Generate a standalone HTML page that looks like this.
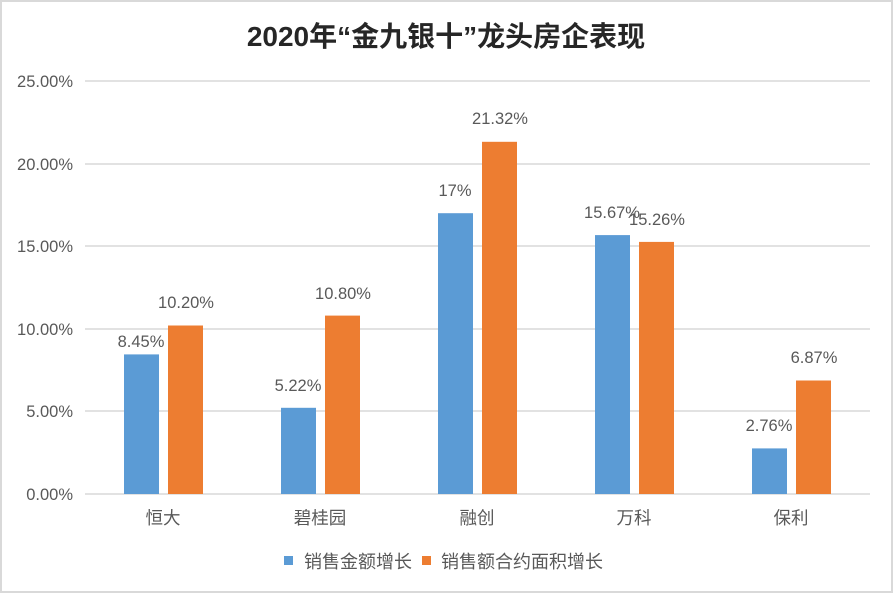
<!DOCTYPE html>
<html><head><meta charset="utf-8"><style>
html,body{margin:0;padding:0;background:#fff;}
svg{display:block;}
text{font-family:"Liberation Sans","Noto Sans CJK SC",sans-serif;fill:#595959;}
</style></head><body>
<svg width="893" height="593" xmlns="http://www.w3.org/2000/svg">
<rect x="1" y="1" width="891" height="591" fill="#fff" stroke="#d9d9d9" stroke-width="2"/>
<text x="446" y="46" text-anchor="middle" font-size="28" font-weight="bold" style="fill:#262626">2020年“金九银十”龙头房企表现</text>
<g stroke="#d9d9d9" stroke-width="1.5">
<line x1="85" x2="870" y1="81" y2="81"/>
<line x1="85" x2="870" y1="164" y2="164"/>
<line x1="85" x2="870" y1="246" y2="246"/>
<line x1="85" x2="870" y1="329" y2="329"/>
<line x1="85" x2="870" y1="411" y2="411"/>
<line x1="85" x2="870" y1="494" y2="494"/>
</g>
<g font-size="16.5" text-anchor="end">
<text x="73" y="87">25.00%</text>
<text x="73" y="170">20.00%</text>
<text x="73" y="252">15.00%</text>
<text x="73" y="335">10.00%</text>
<text x="73" y="417">5.00%</text>
<text x="73" y="500">0.00%</text>
</g>
<g fill="#5b9bd5">
<rect x="124" y="354.4" width="35" height="139.6"/>
<rect x="281" y="407.8" width="35" height="86.2"/>
<rect x="438" y="213.2" width="35" height="280.8"/>
<rect x="595" y="235.1" width="35" height="258.9"/>
<rect x="752" y="448.4" width="35" height="45.6"/>
</g>
<g fill="#ed7d31">
<rect x="168" y="325.5" width="35" height="168.5"/>
<rect x="325" y="315.6" width="35" height="178.4"/>
<rect x="482" y="141.8" width="35" height="352.2"/>
<rect x="639" y="241.9" width="35" height="252.1"/>
<rect x="796" y="380.5" width="35" height="113.5"/>
</g>
<g font-size="16.5" text-anchor="middle">
<text x="141" y="347">8.45%</text>
<text x="186" y="308">10.20%</text>
<text x="298" y="391">5.22%</text>
<text x="343" y="299">10.80%</text>
<text x="455" y="196">17%</text>
<text x="500" y="124">21.32%</text>
<text x="612" y="218">15.67%</text>
<text x="657" y="225">15.26%</text>
<text x="769" y="431">2.76%</text>
<text x="814" y="363">6.87%</text>
</g>
<g font-size="17.5" text-anchor="middle">
<text x="163" y="524">恒大</text>
<text x="320" y="524">碧桂园</text>
<text x="477" y="524">融创</text>
<text x="634" y="524">万科</text>
<text x="791" y="524">保利</text>
</g>
<rect x="284" y="556" width="9" height="9" fill="#5b9bd5"/>
<text x="304" y="568" font-size="18">销售金额增长</text>
<rect x="422" y="556" width="9" height="9" fill="#ed7d31"/>
<text x="441" y="568" font-size="18">销售额合约面积增长</text>
</svg>
</body></html>
